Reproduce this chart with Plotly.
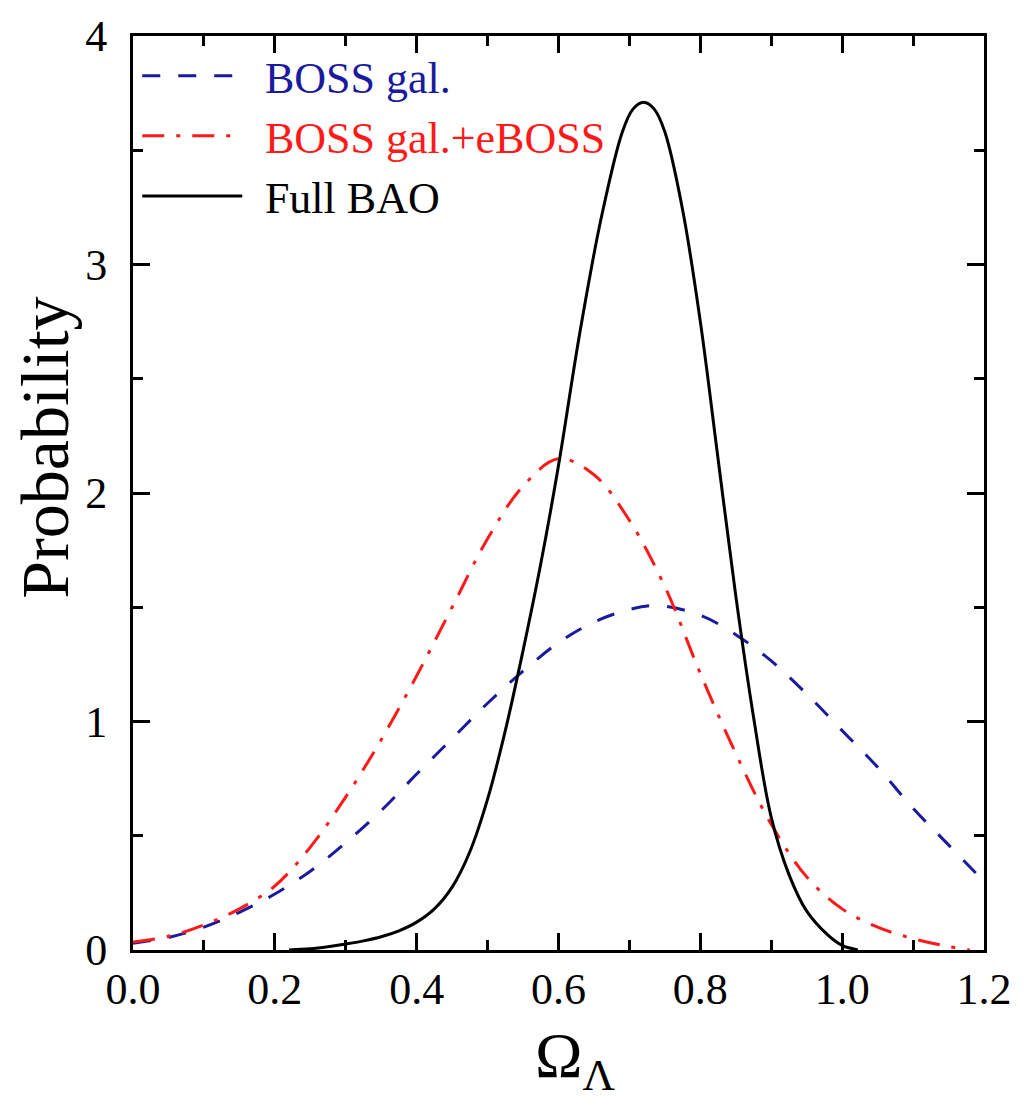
import plotly.graph_objects as go

# ---- data ----
boss_x = [0.0, 0.05, 0.10, 0.15, 0.20, 0.25, 0.30, 0.35, 0.40, 0.45, 0.50, 0.55, 0.60,
          0.65, 0.70, 0.74, 0.80, 0.85, 0.90, 0.95, 1.00, 1.05, 1.10, 1.15, 1.20]
boss_y = [0.03, 0.055, 0.10, 0.165, 0.245, 0.345, 0.47, 0.61, 0.77, 0.925, 1.08, 1.22, 1.345,
          1.435, 1.49, 1.507, 1.465, 1.38, 1.265, 1.12, 0.96, 0.80, 0.62, 0.46, 0.30]

eboss_x = [0.0, 0.05, 0.10, 0.15, 0.20, 0.25, 0.30, 0.35, 0.40, 0.45, 0.50, 0.55, 0.60,
           0.65, 0.70, 0.75, 0.80, 0.85, 0.90, 0.95, 1.00, 1.05, 1.10, 1.15, 1.18]
eboss_y = [0.035, 0.06, 0.11, 0.18, 0.28, 0.45, 0.67, 0.92, 1.20, 1.50, 1.80, 2.03, 2.15,
           2.08, 1.88, 1.59, 1.21, 0.86, 0.55, 0.32, 0.18, 0.10, 0.05, 0.015, 0.0]

bao_x = [0.22, 0.25, 0.275, 0.30, 0.325, 0.35, 0.375, 0.40, 0.425, 0.45, 0.475, 0.50, 0.525,
         0.55, 0.575, 0.60, 0.63, 0.66, 0.69, 0.705, 0.72, 0.735, 0.75, 0.775, 0.80, 0.825,
         0.85, 0.875, 0.90, 0.925, 0.95, 0.98, 1.00, 1.022]
bao_y = [0.0, 0.005, 0.014, 0.026, 0.04, 0.058, 0.084, 0.122, 0.18, 0.275, 0.43, 0.66, 0.96,
         1.31, 1.69, 2.12, 2.70, 3.20, 3.58, 3.68, 3.71, 3.68, 3.58, 3.24, 2.75, 2.15,
         1.55, 1.02, 0.58, 0.33, 0.17, 0.065, 0.02, 0.0]

names = ["BOSS gal.", "BOSS gal.+eBOSS", "Full BAO"]
colors = ["#1a1a9e", "#ff1a1a", "#000000"]

x_ticks = [0.0, 0.2, 0.4, 0.6, 0.8, 1.0, 1.2]
y_ticks = [0, 1, 2, 3, 4]

FONT = "Liberation Serif"
PAD = "\u2009\u2009"

fig = go.Figure()
fig.add_trace(go.Scatter(
    x=boss_x, y=boss_y, mode="lines", line_shape="spline",
    line=dict(color=colors[0], width=3, dash="18px,18px"),
    name="%s<span style='color:%s'>%s</span>" % (PAD, colors[0], names[0])))
fig.add_trace(go.Scatter(
    x=eboss_x, y=eboss_y, mode="lines", line_shape="spline",
    line=dict(color=colors[1], width=3, dash="22px,12px,4px,12px"),
    name="%s<span style='color:%s'>%s</span>" % (PAD, colors[1], names[1])))
fig.add_trace(go.Scatter(
    x=bao_x, y=bao_y, mode="lines", line_shape="spline",
    line=dict(color=colors[2], width=3),
    name="%s<span style='color:%s'>%s</span>" % (PAD, colors[2], names[2])))

axis_common = dict(
    showline=True, linecolor="black", linewidth=3, mirror="ticks",
    ticks="inside", ticklen=17, tickwidth=3, tickcolor="black",
    showgrid=False, zeroline=False,
    tickfont=dict(family=FONT, size=44, color="black"),
)

fig.update_xaxes(
    range=[0, 1.2], tickvals=x_ticks, ticktext=["%.1f" % v for v in x_ticks],
    minor=dict(dtick=0.1, ticks="inside", ticklen=10, tickwidth=3, tickcolor="black", showgrid=False),
    ticklabelstandoff=-2,
    **axis_common)
fig.update_yaxes(
    range=[0, 4], tickvals=y_ticks,
    minor=dict(dtick=0.5, ticks="inside", ticklen=10, tickwidth=3, tickcolor="black", showgrid=False),
    ticklabelstandoff=14,
    **axis_common)

fig.add_annotation(
    text="Ω<sub>Λ</sub>", xref="paper", yref="paper", x=0.52, y=-0.12,
    xanchor="center", yanchor="middle", showarrow=False,
    font=dict(family=FONT, size=64, color="black"))
fig.add_annotation(
    text="Probability", xref="paper", yref="paper", x=-0.103, y=0.55,
    xanchor="center", yanchor="middle", textangle=-90, showarrow=False,
    font=dict(family=FONT, size=68, color="black"))

fig.update_layout(
    width=1024, height=1112,
    margin=dict(l=133, r=36, t=34, b=162),
    paper_bgcolor="white", plot_bgcolor="white",
    showlegend=True,
    legend=dict(x=0.005, y=0.995, xanchor="left", yanchor="top",
                bgcolor="rgba(0,0,0,0)", borderwidth=0,
                itemwidth=100, tracegroupgap=0,
                font=dict(family=FONT, size=44, color="black")),
)

fig.write_html("out.html")
